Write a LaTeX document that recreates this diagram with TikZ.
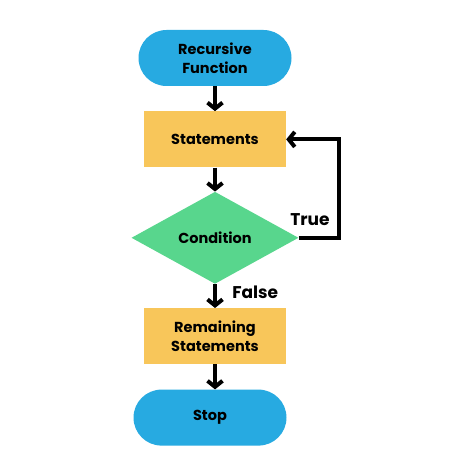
\documentclass[tikz,border=0pt]{standalone}
\usepackage{fontspec}
\setmainfont{Poppins}
\usetikzlibrary{positioning, shapes.geometric, arrows.meta}

\definecolor{pillblue}{RGB}{39,170,225}
\definecolor{boxyellow}{RGB}{248,198,90}
\definecolor{diagreen}{RGB}{88,214,141}

\begin{document}
\begin{tikzpicture}[x=1pt, y=1pt, font=\fontsize{14.5}{19}\selectfont\bfseries]
\tikzstyle{pillnode} = [rectangle, rounded corners=28pt, fill=pillblue, minimum width=153pt, minimum height=56pt, align=center]
\tikzstyle{boxnode} = [rectangle, fill=boxyellow, minimum width=142pt, minimum height=56pt, align=center]
\tikzstyle{condnode} = [diamond, fill=diagreen, aspect=1.8, minimum width=167pt, minimum height=92pt, inner sep=0pt]
\tikzstyle{edge} = [-{Straight Barb[length=6pt, width=15pt]}, line width=4pt]
\tikzstyle{answer} = [font=\fontsize{17}{20}\selectfont\bfseries]

\useasboundingbox[fill=white] (0,0) rectangle (474,474);

% Узлы
\node[pillnode] (start) at (215,416) {Recursive\\Function};
\node[boxnode] (stmt) [below =25pt of start] {Statements};
\node[condnode] (cond) [below =24pt of stmt] {Condition};
\node[boxnode] (rest) [below =24pt of cond] {Remaining\\Statements};
\node[pillnode] (stop) [below =25pt of rest, xshift=-5pt] {Stop};

% Стрелки
\draw[edge] (start) -- (stmt);
\draw[edge] (stmt) -- (cond);
\draw[edge] (cond) -- node [answer, right=12pt, pos=.35] {False} (rest);
\draw[edge] (rest.south) -- (rest.south |- stop.north);

% Возврат по условию
\draw[edge] (cond.east) -- node [answer, above=7pt, pos=.28] {True} ++(40,0) |- (stmt.east);

\end{tikzpicture}
\end{document}
